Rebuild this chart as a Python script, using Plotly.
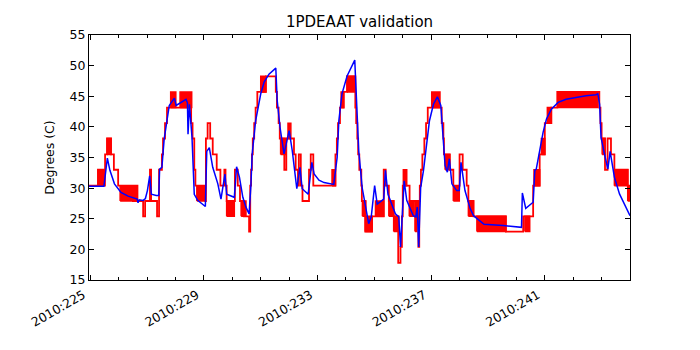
import plotly.graph_objects as go

# ---- data (day of year 2010, degrees C) ----
red_t = [224.92, 225.27, 225.52, 225.59, 225.73, 225.83, 225.98, 226.50, 226.56, 226.58,
         226.64, 226.66, 226.86, 226.93, 227.10, 227.14, 227.35, 227.42, 227.52, 227.56,
         227.63, 227.70, 228.55, 228.60, 228.66, 228.70, 229.05, 229.07, 229.13, 229.22,
         229.31, 229.45, 229.58, 229.72, 229.76, 229.80, 230.09, 230.19, 230.27, 230.41,
         230.59, 230.63, 230.66, 230.69, 230.72, 230.77, 230.82, 230.88, 231.18, 231.53,
         231.57, 231.63, 231.67, 231.83, 231.90, 232.17, 232.23, 232.31, 232.34, 232.41,
         232.47, 232.70, 232.76, 232.85, 233.63, 233.68, 233.72, 233.79, 233.92, 234.04,
         234.33, 234.36, 234.40, 234.43, 234.47, 234.54, 234.56, 234.68, 234.92, 235.33,
         235.40, 235.51, 235.68, 235.84, 235.92, 235.97, 236.00, 236.24, 236.43, 236.49,
         236.55, 236.58, 236.60, 236.64, 236.69, 236.76, 236.82, 236.88, 237.37, 237.43,
         237.45, 237.66, 237.78, 238.00, 238.11, 238.25, 238.31, 238.49, 239.63, 240.24,
         240.59, 240.82, 241.00, 241.23, 241.44, 242.92, 242.96, 243.00, 243.12, 243.21,
         243.33, 243.45, 243.92, 244.00]
red_v = [30.4, 33.0, 35.5, 38.1, 35.5, 33.0, 30.4, 27.9, 30.4, 27.9,
         30.4, 27.9, 25.4, 27.9, 33.0, 27.9, 25.4, 33.0, 35.5, 38.1,
         40.6, 43.15, 40.6, 38.1, 33.0, 30.4, 27.9, 38.1, 40.6, 38.1,
         35.5, 33.0, 30.4, 33.0, 30.4, 27.9, 33.0, 30.4, 27.9, 25.4,
         22.9, 30.4, 33.0, 35.5, 38.1, 40.6, 43.15, 45.7, 48.25, 45.7,
         43.15, 40.6, 38.1, 33.0, 38.1, 35.5, 33.0, 30.4, 35.5, 30.4,
         27.9, 33.0, 35.5, 30.4, 35.5, 38.1, 40.6, 43.15, 45.7, 48.25,
         43.15, 40.6, 38.1, 35.5, 33.0, 30.4, 27.9, 22.9, 25.4, 33.0,
         30.4, 27.9, 25.4, 17.8, 20.4, 25.4, 30.4, 27.9, 25.4, 27.9,
         20.4, 27.9, 30.4, 33.0, 35.5, 38.1, 40.6, 43.15, 40.6, 38.1,
         35.5, 33.0, 30.4, 35.5, 33.0, 30.4, 27.9, 25.4, 22.9, 25.4,
         30.4, 35.5, 40.6, 43.15, 45.7, 43.15, 40.6, 38.1, 33.0, 38.1,
         35.5, 33.0, 30.4, 27.9]

# rapid toggling between two adjacent quantisation levels (solid red bands)
band_t0 = [225.27, 225.59, 226.05, 227.83, 228.16, 228.75, 229.80, 230.31, 231.00, 231.70,
           231.96, 233.51, 233.83, 234.04, 234.58, 234.68, 235.04, 235.51, 235.68, 236.02,
           236.23, 236.43, 237.02, 237.49, 237.78, 238.31, 238.61, 240.30, 240.62, 240.88,
           241.09, 241.46, 243.02, 243.45, 243.92]
band_t1 = [225.52, 225.73, 226.50, 228.01, 228.57, 229.05, 230.07, 230.48, 231.18, 231.88,
           232.06, 233.63, 233.92, 234.33, 234.70, 234.92, 235.33, 235.68, 235.86, 236.14,
           236.37, 236.49, 237.31, 237.64, 237.99, 238.49, 239.63, 240.47, 240.82, 241.00,
           241.23, 242.87, 243.12, 243.92, 244.00]
band_lo = [30.4, 35.5, 27.9, 43.15, 43.15, 27.9, 25.4, 25.4, 45.7, 35.5,
           38.1, 30.4, 43.15, 45.7, 25.4, 22.9, 25.4, 25.4, 22.9, 30.4,
           25.4, 22.9, 43.15, 33.0, 27.9, 25.4, 22.9, 22.9, 30.4, 35.5,
           40.6, 43.15, 35.5, 30.4, 27.9]
band_hi = [33.0, 38.1, 30.4, 45.7, 45.7, 30.4, 27.9, 27.9, 48.25, 38.1,
           40.6, 33.0, 45.7, 48.25, 27.9, 25.4, 27.9, 27.9, 25.4, 33.0,
           27.9, 25.4, 45.7, 35.5, 30.4, 27.9, 25.4, 25.4, 33.0, 38.1,
           43.15, 45.7, 38.1, 33.0, 30.4]

blue_t = [224.95, 225.48, 225.55, 225.60, 225.69, 225.85, 226.08, 226.33, 226.65, 226.68,
          226.72, 226.86, 226.94, 227.01, 227.09, 227.15, 227.32, 227.41, 227.44, 227.52,
          227.60, 227.71, 227.78, 227.96, 228.02, 228.37, 228.42, 228.44, 228.49, 228.58,
          228.66, 228.78, 229.05, 229.10, 229.19, 229.31, 229.49, 229.60, 229.74, 229.80,
          230.07, 230.15, 230.25, 230.37, 230.48, 230.59, 230.65, 230.70, 230.82, 231.00,
          231.12, 231.29, 231.53, 231.58, 231.68, 231.82, 232.00, 232.11, 232.27, 232.38,
          232.46, 232.67, 232.80, 232.88, 233.05, 233.23, 233.57, 233.69, 233.75, 233.86,
          234.04, 234.31, 234.36, 234.45, 234.57, 234.68, 234.80, 234.89, 235.01, 235.10,
          235.33, 235.39, 235.48, 235.74, 235.86, 235.92, 236.00, 236.05, 236.14, 236.37,
          236.46, 236.51, 236.56, 236.63, 236.73, 236.82, 236.94, 237.08, 237.22, 237.34,
          237.41, 237.49, 237.57, 237.64, 237.73, 237.90, 237.99, 238.05, 238.19, 238.37,
          238.49, 238.72, 238.86, 239.53, 240.18, 240.21, 240.33, 240.59, 240.65, 240.70,
          240.82, 240.94, 241.06, 241.23, 241.47, 241.75, 242.10, 242.45, 242.80, 242.87,
          242.93, 242.98, 243.10, 243.18, 243.22, 243.30, 243.37, 243.45, 243.63, 243.80,
          243.92, 244.00]
blue_v = [30.3, 30.3, 33.0, 34.9, 32.9, 30.7, 29.3, 28.7, 28.2, 27.6,
          28.1, 28.0, 28.3, 29.6, 32.0, 29.0, 28.8, 28.8, 33.1, 33.4,
          38.0, 41.5, 43.5, 44.7, 43.5, 44.5, 43.9, 38.8, 43.7, 38.3,
          29.0, 28.0, 27.0, 36.0, 36.6, 33.4, 30.7, 28.2, 32.3, 29.0,
          28.5, 33.5, 31.8, 28.5, 26.9, 25.8, 30.1, 35.6, 41.0, 45.4,
          47.3, 48.6, 49.6, 44.3, 39.9, 35.6, 39.4, 36.1, 29.9, 33.4,
          29.9, 29.0, 34.2, 32.3, 31.3, 30.9, 30.6, 35.0, 41.0, 45.4,
          48.3, 50.9, 45.9, 36.1, 30.1, 26.9, 24.2, 25.3, 30.4, 27.4,
          28.2, 32.9, 29.0, 25.8, 25.3, 20.4, 28.5, 31.2, 28.0, 25.5,
          25.3, 26.9, 20.4, 30.1, 32.9, 36.6, 41.0, 43.7, 44.9, 43.5,
          39.4, 33.7, 32.6, 34.8, 30.7, 29.6, 29.6, 34.2, 29.6, 26.7,
          25.5, 24.6, 24.1, 23.9, 23.6, 29.2, 26.7, 27.7, 32.9, 33.1,
          36.1, 39.1, 41.3, 42.9, 44.0, 44.5, 44.8, 45.1, 45.25, 45.4,
          43.7, 38.3, 35.6, 34.0, 33.1, 36.0, 34.0, 31.8, 29.05, 27.4,
          26.3, 25.5]

x_tick_days = [225, 229, 233, 237, 241]
x_tick_labels = ["2010:225", "2010:229", "2010:233", "2010:237", "2010:241"]
y_ticks = [15, 20, 25, 30, 35, 40, 45, 50, 55]

FONT = "DejaVu Sans"

band_x, band_y = [], []
for t0, t1, lo, hi in zip(band_t0, band_t1, band_lo, band_hi):
    band_x += [t0, t1, t1, t0, t0, None]
    band_y += [lo, lo, hi, hi, lo, None]

fig = go.Figure()
fig.add_trace(go.Scatter(x=band_x, y=band_y, mode="lines", fill="toself",
                         fillcolor="#ff0000", line=dict(color="#ff0000", width=1.5),
                         hoverinfo="skip", showlegend=False))
fig.add_trace(go.Scatter(x=red_t, y=red_v, mode="lines", line_shape="hv",
                         line=dict(color="#ff0000", width=1.8), showlegend=False))
fig.add_trace(go.Scatter(x=blue_t, y=blue_v, mode="lines",
                         line=dict(color="#0000ff", width=1.5), showlegend=False))

axis_common = dict(showline=True, linecolor="black", linewidth=1, mirror="ticks",
                   ticks="inside", tickcolor="black", ticklen=5, tickwidth=1,
                   showgrid=False, zeroline=False,
                   tickfont=dict(family=FONT, size=12.5, color="black"))

fig.update_layout(
    width=700, height=350,
    margin=dict(l=89, r=70, t=35, b=70),
    paper_bgcolor="white", plot_bgcolor="white",
    title=dict(text="1PDEAAT validation", x=0.5, xref="paper", xanchor="center",
               y=1 - 22 / 350, yref="container", yanchor="middle",
               font=dict(family=FONT, size=15, color="black")),
    xaxis=dict(range=[224.954, 244.0], tickvals=x_tick_days, ticktext=x_tick_labels,
               tickangle=-30, ticklabelshift=-7, ticklabelstandoff=2,
               minor=dict(dtick=1, tick0=225, ticks="inside", ticklen=3,
                          tickcolor="black", showgrid=False),
               **axis_common),
    yaxis=dict(range=[15, 55], tickvals=y_ticks,
               title=dict(text="Degrees (C)", standoff=12,
                          font=dict(family=FONT, size=12.5, color="black")),
               **axis_common),
)

fig.write_html("out.html")
